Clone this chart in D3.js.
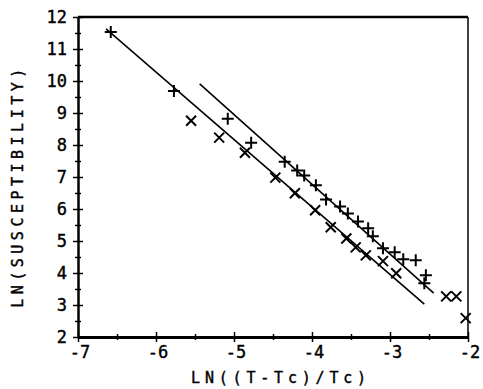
<!DOCTYPE html>
<html>
<head>
<meta charset="utf-8">
<script src="https://cdn.jsdelivr.net/npm/d3@7"></script>
<style>
	body { margin: 0; background: #fff; }
	text { font-family: "DejaVu Sans Mono", monospace; fill: #000; stroke: #000; stroke-width: 0.4; }
</style>
</head>
<body>
<svg id="chart"></svg>
<script>
// values
const xTicks = [-7, -6, -5, -4, -3, -2];
const yTicks = [2, 3, 4, 5, 6, 7, 8, 9, 10, 11, 12];

// "+" markers
const plusPoints = [
	[-6.58, 11.53], [-5.77, 9.69], [-5.08, 8.82], [-4.78, 8.07], [-4.35, 7.48],
	[-4.19, 7.20], [-4.10, 7.05], [-3.95, 6.74], [-3.82, 6.30], [-3.64, 6.08],
	[-3.54, 5.86], [-3.41, 5.61], [-3.28, 5.40], [-3.22, 5.15], [-3.09, 4.77],
	[-2.94, 4.65], [-2.83, 4.43], [-2.67, 4.40], [-2.54, 3.93], [-2.56, 3.68]
];

// "x" markers
const crossPoints = [
	[-5.55, 8.76], [-5.19, 8.23], [-4.86, 7.76], [-4.47, 6.98], [-4.22, 6.49],
	[-3.96, 5.96], [-3.76, 5.43], [-3.56, 5.08], [-3.44, 4.80], [-3.31, 4.55],
	[-3.09, 4.37], [-2.92, 3.99], [-2.28, 3.27], [-2.15, 3.27], [-2.03, 2.59]
];

// fitted lines (end points)
const fitLower = [[-6.64, 11.63], [-2.56, 3.03]];
const fitUpper = [[-5.44, 9.91], [-2.44, 3.37]];

const width = 483;
const height = 389;

const svg = d3.select('#chart').attr('width', width).attr('height', height);

const x = d3.scaleLinear().domain([-7, -2]).range([78, 468]);
const y = d3.scaleLinear().domain([2, 12]).range([337, 17]);

// frame
svg.append('line')
	.attr('x1', x(-7)).attr('x2', x(-2)).attr('y1', y(12)).attr('y2', y(12))
	.attr('stroke', '#000').attr('stroke-width', 2.5);
svg.append('line')
	.attr('x1', x(-2)).attr('x2', x(-2)).attr('y1', y(12)).attr('y2', y(2))
	.attr('stroke', '#000').attr('stroke-width', 1.5);

// x axis
const xAxis = svg.append('g')
	.attr('transform', `translate(0,${y(2)})`)
	.call(d3.axisBottom(x).tickValues(d3.range(-7, -1.9, 0.5)).tickSize(0).tickFormat(''));
xAxis.select('.domain').attr('stroke-width', 3);
xAxis.selectAll('.tick line')
	.attr('y1', d => Number.isInteger(d) ? -5 : -3)
	.attr('y2', d => Number.isInteger(d) ? 5 : 3)
	.attr('stroke-width', 1.5);

svg.append('g').selectAll('text').data(xTicks).enter().append('text')
	.attr('x', d => x(d) + 2)
	.attr('y', y(2) + 21)
	.attr('text-anchor', 'middle')
	.attr('font-size', 17)
	.text(d => String(d));

// y axis
const yAxis = svg.append('g')
	.attr('transform', `translate(${x(-7)},0)`)
	.call(d3.axisLeft(y).tickValues(d3.range(2, 12.1, 0.5)).tickSize(0).tickFormat(''));
yAxis.select('.domain').attr('stroke-width', 2.5);
yAxis.selectAll('.tick line')
	.attr('x1', d => Number.isInteger(d) ? -5 : -3)
	.attr('x2', d => Number.isInteger(d) ? 5 : 3)
	.attr('stroke-width', 1.5);

svg.append('g').selectAll('text').data(yTicks).enter().append('text')
	.attr('x', x(-7) - 11)
	.attr('y', d => y(d) + 6)
	.attr('text-anchor', 'end')
	.attr('font-size', 17)
	.text(d => String(d));

// axis titles
svg.append('text')
	.attr('x', 281)
	.attr('y', 383)
	.attr('text-anchor', 'middle')
	.attr('font-size', 15)
	.attr('letter-spacing', 4.8)
	.text('LN((T-Tc)/Tc)');

svg.append('text')
	.attr('transform', 'translate(23,186) rotate(-90)')
	.attr('text-anchor', 'middle')
	.attr('font-size', 15)
	.attr('letter-spacing', 4.5)
	.text('LN(SUSCEPTIBILITY)');

// fit lines
const line = d3.line().x(d => x(d[0])).y(d => y(d[1]));
svg.append('g').selectAll('path').data([fitLower, fitUpper]).enter().append('path')
	.attr('d', line)
	.attr('fill', 'none')
	.attr('stroke', '#000')
	.attr('stroke-width', 1.6);

// markers
const s = 6;
svg.append('g').selectAll('path').data(plusPoints).enter().append('path')
	.attr('d', d => `M${x(d[0]) - s},${y(d[1])}h${2 * s}M${x(d[0])},${y(d[1]) - s}v${2 * s}`)
	.attr('stroke', '#000')
	.attr('stroke-width', 2);

const c = 5;
svg.append('g').selectAll('path').data(crossPoints).enter().append('path')
	.attr('d', d => `M${x(d[0]) - c},${y(d[1]) - c}l${2 * c},${2 * c}M${x(d[0]) - c},${y(d[1]) + c}l${2 * c},${-2 * c}`)
	.attr('stroke', '#000')
	.attr('stroke-width', 2);
</script>
</body>
</html>
